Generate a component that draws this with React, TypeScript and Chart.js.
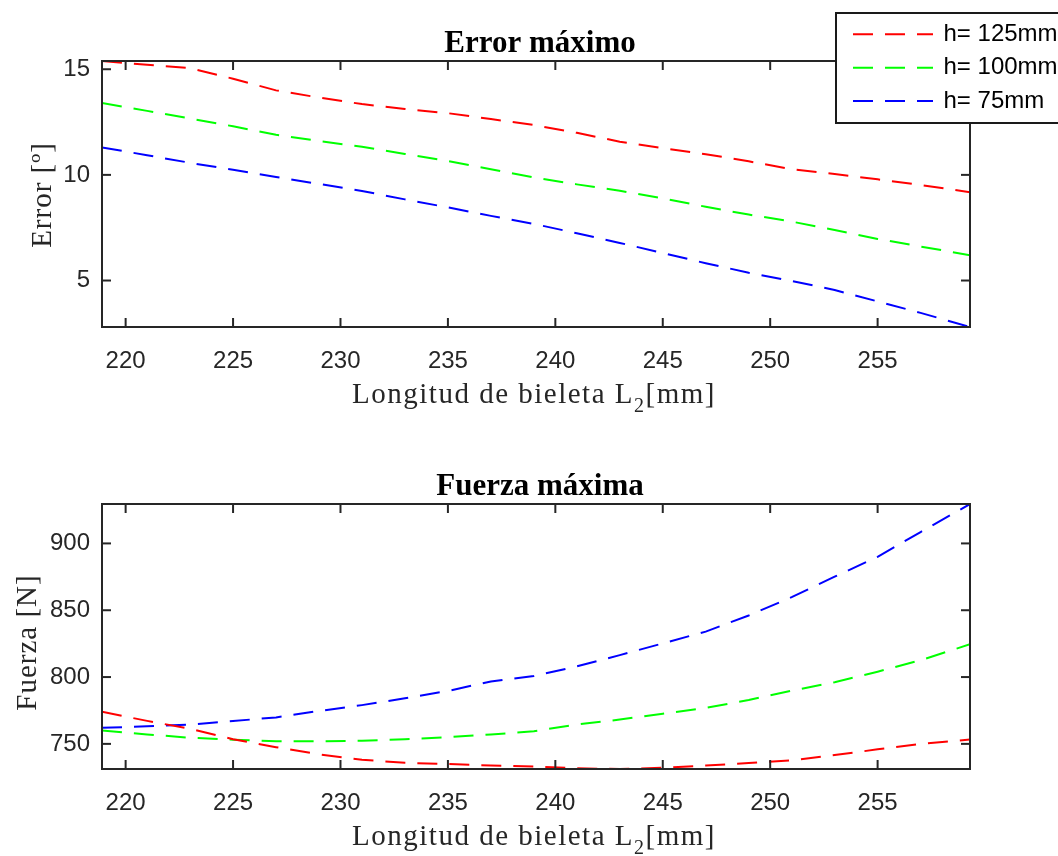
import React, { useEffect, useRef } from "react";
import { Chart, registerables } from "chart.js";

Chart.register(...registerables);

// ---- data ----
const L2 = [218.9, 221, 223, 225, 227, 229, 231, 233, 235, 237, 239, 241, 243, 245, 247, 249, 251, 253, 255, 257, 259.3];

const errH125 = [15.39, 15.21, 15.05, 14.55, 14.0, 13.66, 13.35, 13.12, 12.92, 12.64, 12.36, 11.99, 11.57, 11.26, 10.98, 10.64, 10.27, 10.04, 9.79, 9.52, 9.18];
const errH100 = [13.4, 13.03, 12.67, 12.3, 11.9, 11.6, 11.33, 10.99, 10.66, 10.27, 9.88, 9.55, 9.25, 8.89, 8.49, 8.12, 7.79, 7.39, 6.97, 6.61, 6.2];
const errH75 = [11.3, 10.93, 10.57, 10.24, 9.9, 9.57, 9.24, 8.84, 8.46, 8.06, 7.68, 7.24, 6.78, 6.3, 5.82, 5.37, 4.98, 4.55, 4.01, 3.47, 2.8];

const forceH125 = [774, 767.2, 761.3, 753.5, 747.5, 742.2, 738.1, 735.8, 735.0, 733.8, 733.0, 731.7, 731.2, 732.1, 733.8, 735.7, 737.7, 741.6, 745.9, 749.9, 753.2];
const forceH100 = [760.1, 757.1, 754.6, 753.1, 752.0, 752.0, 752.3, 753.4, 755.0, 757.0, 759.5, 764.5, 768.2, 772.6, 776.9, 782.8, 789.8, 796.1, 804.0, 812.6, 824.5];
const forceH75 = [762, 763.1, 764.4, 767.1, 769.8, 774.6, 779, 784.1, 789.6, 796.7, 800.8, 808, 816.4, 825.2, 834.0, 846.1, 859.8, 875.1, 890.0, 908.5, 929.5];

const seriesLabels = ["h= 125mm", "h= 100mm", "h= 75mm"];
const seriesColors = ["#ff0000", "#00ff00", "#0000ff"];

const xTicks = [220, 225, 230, 235, 240, 245, 250, 255];
const errTicks = [5, 10, 15];
const forceTicks = [750, 800, 850, 900];

const X_MIN = 218.9;
const X_MAX = 259.3;
const ERR_MIN = 2.8;
const ERR_MAX = 15.39;
const F_MIN = 731.2;
const F_MAX = 929.5;

const AXIS_COLOR = "#262626";
const DASH = [20, 12];

const matlabPlugin = {
  id: "matlab",
  afterDatasetsDraw(chart: any, _args: any, opts: any) {
    const { ctx, chartArea: a, scales } = chart;
    ctx.save();
    ctx.setLineDash([]);
    ctx.strokeStyle = AXIS_COLOR;
    ctx.lineWidth = 2;
    const tl = 9;
    const line = (x1: number, y1: number, x2: number, y2: number) => {
      ctx.beginPath();
      ctx.moveTo(x1, y1);
      ctx.lineTo(x2, y2);
      ctx.stroke();
    };
    scales.x.ticks.forEach((t: any) => {
      const px = scales.x.getPixelForValue(t.value);
      line(px, a.bottom, px, a.bottom - tl);
      line(px, a.top, px, a.top + tl);
    });
    scales.y.ticks.forEach((t: any) => {
      const py = scales.y.getPixelForValue(t.value);
      line(a.left, py, a.left + tl, py);
      line(a.right, py, a.right - tl, py);
    });
    ctx.strokeRect(a.left, a.top, a.right - a.left, a.bottom - a.top);

    const cx = (a.left + a.right) / 2;
    // title
    ctx.fillStyle = "#000";
    ctx.font = "bold 31px 'Liberation Serif'";
    ctx.textAlign = "center";
    ctx.textBaseline = "alphabetic";
    ctx.fillText(opts.title, cx + 4, a.top - 9);

    // x label with subscript
    ctx.fillStyle = AXIS_COLOR;
    const mainFont = "29px 'Liberation Serif'";
    const subFont = "20px 'Liberation Serif'";
    const p1 = "Longitud de bieleta L";
    const p2 = "2";
    const p3 = "[mm]";
    (ctx as any).letterSpacing = "1.5px";
    ctx.font = mainFont;
    const w1 = ctx.measureText(p1).width;
    const w3 = ctx.measureText(p3).width;
    ctx.font = subFont;
    const w2 = ctx.measureText(p2).width;
    const total = w1 + w2 + w3;
    let xs = cx - 2 - total / 2;
    const by = a.bottom + 76;
    ctx.textAlign = "left";
    ctx.font = mainFont;
    ctx.fillText(p1, xs, by);
    xs += w1;
    ctx.font = subFont;
    ctx.fillText(p2, xs, by + 9);
    xs += w2;
    ctx.font = mainFont;
    ctx.fillText(p3, xs, by);

    // y label
    (ctx as any).letterSpacing = "1px";
    ctx.save();
    ctx.translate(opts.ylabelX, (a.top + a.bottom) / 2 + opts.ylabelDy);
    ctx.rotate(-Math.PI / 2);
    ctx.textAlign = "center";
    ctx.font = mainFont;
    ctx.fillText(opts.ylabel, 0, 0);
    ctx.restore();
    (ctx as any).letterSpacing = "0px";

    // legend
    if (opts.legend) {
      const bx = 836, by0 = 13, bw = 240, bh = 110;
      ctx.fillStyle = "#fff";
      ctx.fillRect(bx, by0, bw, bh);
      ctx.strokeStyle = "#1a1a1a";
      ctx.lineWidth = 2;
      ctx.strokeRect(bx, by0, bw, bh);
      const rows = [34.3, 67.7, 101];
      chart.data.datasets.forEach((ds: any, i: number) => {
        ctx.strokeStyle = ds.borderColor;
        ctx.lineWidth = 2;
        ctx.setLineDash(DASH);
        line(853, rows[i], 933, rows[i]);
        ctx.setLineDash([]);
        ctx.fillStyle = "#000";
        ctx.font = "24px 'Liberation Sans'";
        ctx.textAlign = "left";
        ctx.textBaseline = "middle";
        ctx.fillText(ds.label, 943.5, rows[i]);
      });
    }
    ctx.restore();
  },
};

function makeConfig(
  series: number[][],
  yMin: number,
  yMax: number,
  yTicks: number[],
  padTop: number,
  xHeight: number,
  plug: any
): any {
  return {
    type: "line",
    data: {
      datasets: series.map((vals, i) => ({
        label: seriesLabels[i],
        data: L2.map((x, j) => ({ x, y: vals[j] })),
        borderColor: seriesColors[i],
        backgroundColor: seriesColors[i],
        borderWidth: 2,
        borderDash: DASH,
        pointRadius: 0,
        fill: false,
        tension: 0,
      })),
    },
    options: {
      animation: false,
      responsive: false,
      maintainAspectRatio: false,
      layout: { padding: { top: padTop, right: 88, left: 0, bottom: 0 } },
      plugins: {
        legend: { display: false },
        tooltip: { enabled: false },
        title: { display: false },
        matlab: plug,
      },
      scales: {
        x: {
          type: "linear",
          min: X_MIN,
          max: X_MAX,
          grid: { display: false, drawTicks: false },
          border: { display: false },
          ticks: {
            padding: 20,
            autoSkip: false,
            maxRotation: 0,
            color: AXIS_COLOR,
            font: { family: "'Liberation Sans'", size: 24 },
          },
          afterBuildTicks: (s: any) => {
            s.ticks = xTicks.map((v) => ({ value: v }));
          },
          afterFit: (s: any) => {
            s.height = xHeight;
          },
        },
        y: {
          type: "linear",
          min: yMin,
          max: yMax,
          grid: { display: false, drawTicks: false },
          border: { display: false },
          ticks: {
            padding: 12,
            autoSkip: false,
            color: AXIS_COLOR,
            font: { family: "'Liberation Sans'", size: 24 },
          },
          afterBuildTicks: (s: any) => {
            s.ticks = yTicks.map((v) => ({ value: v }));
          },
          afterFit: (s: any) => {
            s.width = 102;
          },
        },
      },
    },
    plugins: [matlabPlugin],
  };
}

export default function App() {
  const topRef = useRef<HTMLCanvasElement>(null);
  const botRef = useRef<HTMLCanvasElement>(null);

  useEffect(() => {
    const c1 = new Chart(
      topRef.current as HTMLCanvasElement,
      makeConfig([errH125, errH100, errH75], ERR_MIN, ERR_MAX, errTicks, 61, 101, {
        title: "Error máximo",
        ylabel: "Error [º]",
        ylabelX: 51,
        ylabelDy: 1,
        legend: true,
      })
    );
    const c2 = new Chart(
      botRef.current as HTMLCanvasElement,
      makeConfig([forceH125, forceH100, forceH75], F_MIN, F_MAX, forceTicks, 76, 87, {
        title: "Fuerza máxima",
        ylabel: "Fuerza [N]",
        ylabelX: 36,
        ylabelDy: 6,
        legend: false,
      })
    );
    return () => {
      c1.destroy();
      c2.destroy();
    };
  }, []);

  return (
    <div style={{ position: "absolute", left: 0, top: 0, width: 1058, height: 856, background: "#fff", overflow: "hidden" }}>
      <canvas ref={topRef} width={1058} height={428} style={{ position: "absolute", left: 0, top: 0, width: 1058, height: 428 }} />
      <canvas ref={botRef} width={1058} height={428} style={{ position: "absolute", left: 0, top: 428, width: 1058, height: 428 }} />
    </div>
  );
}
